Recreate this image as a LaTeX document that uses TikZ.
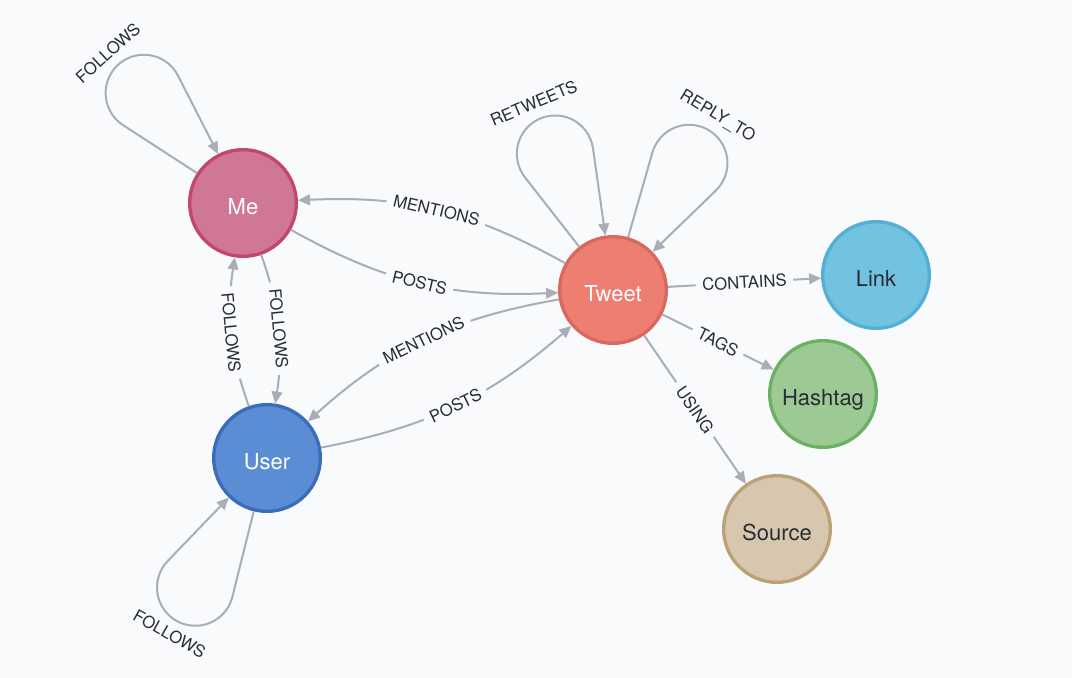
\documentclass[tikz,border=0pt]{standalone}
\usepackage{fontspec}
\setmainfont{TeX Gyre Heros}
\usetikzlibrary{arrows.meta,calc}
\definecolor{bg}{HTML}{F9FAFB}
\definecolor{edgec}{HTML}{A8ADB8}
\definecolor{txt}{HTML}{2A2C34}
\definecolor{mefill}{HTML}{CF7794}
\definecolor{meborder}{HTML}{C2476E}
\definecolor{userfill}{HTML}{5B8DD5}
\definecolor{userborder}{HTML}{3A6DB9}
\definecolor{tweetfill}{HTML}{EE7D72}
\definecolor{tweetborder}{HTML}{D8695F}
\definecolor{linkfill}{HTML}{72C3DF}
\definecolor{linkborder}{HTML}{52AFD5}
\definecolor{hashfill}{HTML}{9DCA94}
\definecolor{hashborder}{HTML}{6CB063}
\definecolor{srcfill}{HTML}{D7C7AF}
\definecolor{srcborder}{HTML}{BDA176}
\begin{document}
\begin{tikzpicture}[x=0.75pt,y=0.75pt,
  gnode/.style={circle, minimum size=80pt, inner sep=0pt, line width=2.5pt, text height=17.5pt, text depth=0pt, font=\fontsize{16.5}{18}\selectfont},
  edge/.style={draw=edgec, line width=1.5pt, -{Triangle[length=9pt,width=8pt]}},
  elabel/.style={sloped, fill=bg, text=txt, inner xsep=5pt, inner ysep=1pt, font=\fontsize{12.5}{14}\selectfont},
  looplabel/.style={text=txt, inner sep=1pt, font=\fontsize{12.5}{14}\selectfont}]
\path[use as bounding box, fill=bg] (0,0) rectangle (1072,-678);

% nodes
\node[gnode, fill=mefill, draw=meborder, text=white] (Me) at (243,-203) {Me};
\node[gnode, fill=userfill, draw=userborder, text=white] (User) at (267,-458) {User};
\node[gnode, fill=tweetfill, draw=tweetborder, text=white] (Tweet) at (613,-290) {Tweet};
\node[gnode, fill=linkfill, draw=linkborder, text=txt] (Link) at (876,-275) {Link};
\node[gnode, fill=hashfill, draw=hashborder, text=txt] (Hashtag) at (823,-394) {Hashtag};
\node[gnode, fill=srcfill, draw=srcborder, text=txt] (Source) at (777,-529) {Source};

% edges between nodes
\draw[edge] (Tweet) to[bend right=16] node[elabel] (lab1) {MENTIONS} (Me);
\draw[edge] (Me) to[bend right=16] node[elabel] (lab2) {POSTS} (Tweet);
\draw[edge] (Tweet) to[bend right=16] node[elabel] (lab3) {MENTIONS} (User);
\draw[edge] (User) to[bend right=15] node[elabel] (lab4) {POSTS} (Tweet);
\draw[edge] (Me) to[bend left=14] node[elabel] (lab5) {FOLLOWS} (User);
\draw[edge] (User) to[bend left=14] node[elabel] (lab6) {FOLLOWS} (Me);
\draw[edge] (Tweet) -- node[elabel] (lab7) {CONTAINS} (Link);
\draw[edge] (Tweet) -- node[elabel] (lab8) {TAGS} (Hashtag);
\draw[edge] (Tweet) -- node[elabel] (lab9) {USING} (Source);

% self loops
\draw[edge] (Me.147) -- ($(Me.center)+(147:143)$) arc[start angle=237, end angle=27, radius=28.7pt] -- (Me.117);
\node[looplabel, rotate=42] (lab10) at ($(Me.center)+(132:202)$) {FOLLOWS};

\draw[edge] (User.-104) -- ($(User.center)+(-104:143)$) arc[start angle=-14, end angle=-224, radius=28.7pt] -- (User.-134);
\node[looplabel, rotate=-29] (lab11) at ($(User.center)+(-119:201)$) {FOLLOWS};

\draw[edge] (Tweet.128) -- ($(Tweet.center)+(128:143)$) arc[start angle=218, end angle=8, radius=28.7pt] -- (Tweet.98);
\node[looplabel, rotate=23] (lab12) at ($(Tweet.center)+(113:203)$) {RETWEETS};

\draw[edge] (Tweet.74) -- ($(Tweet.center)+(74:143)$) arc[start angle=164, end angle=-46, radius=28.7pt] -- (Tweet.44);
\node[looplabel, rotate=-31] (lab13) at ($(Tweet.center)+(59:203)$) {REPLY\_TO};
\end{tikzpicture}
\end{document}
